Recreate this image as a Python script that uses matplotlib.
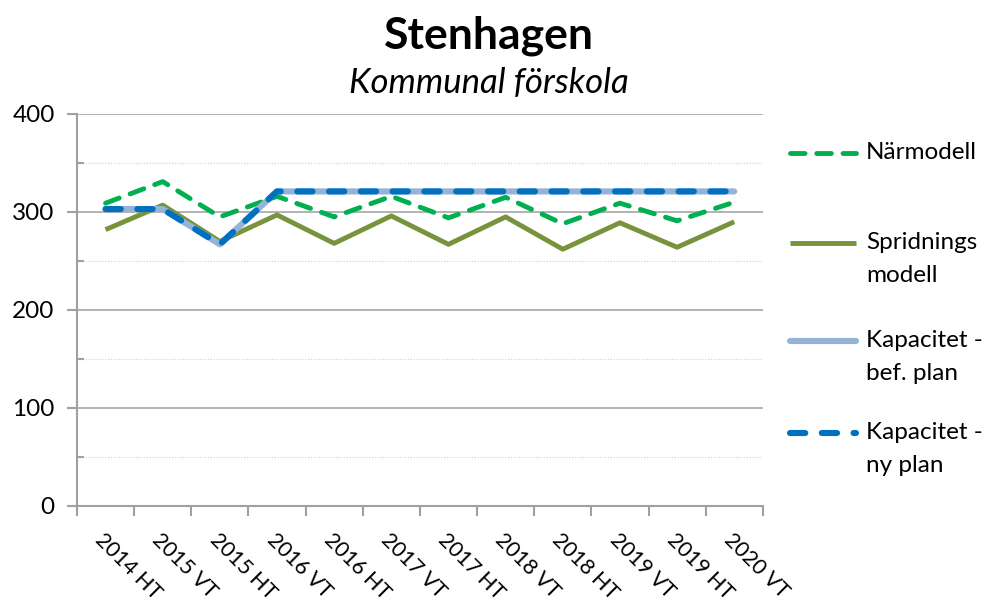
import matplotlib.pyplot as plt
from matplotlib.lines import Line2D
from matplotlib.ticker import MultipleLocator

# Terminer och prognoser
terms = ['2014 HT', '2015 VT', '2015 HT', '2016 VT', '2016 HT', '2017 VT',
         '2017 HT', '2018 VT', '2018 HT', '2019 VT', '2019 HT', '2020 VT']
narmodell = [309, 331, 295, 316, 295, 316, 294, 315, 288, 309, 291, 310]
spridning = [282, 307, 270, 297, 268, 296, 267, 295, 262, 289, 264, 290]
kap_bef = [303, 303, 267, 321, 321, 321, 321, 321, 321, 321, 321, 321]
kap_ny = [303, 303, 267, 321, 321, 321, 321, 321, 321, 321, 321, 321]

labels = ['Närmodell', 'Spridnings\nmodell', 'Kapacitet -\nbef. plan', 'Kapacitet -\nny plan']

plt.rcParams['font.family'] = ['Lato', 'DejaVu Sans']

fig = plt.figure(figsize=(9.83, 6.08), dpi=100)
ax = fig.add_axes([0.0783, 0.1678, 0.6977, 0.6447])

x = list(range(len(terms)))
styles = [
    dict(color='#00B050', lw=3.5, dashes=(3.0, 2.4), dash_capstyle='round'),
    dict(color='#77933C', lw=3.5, solid_capstyle='butt'),
    dict(color='#95B3D7', lw=4.4, solid_capstyle='round'),
    dict(color='#0070C0', lw=4.4, dashes=(2.5, 2.7), dash_capstyle='round'),
]
series = [narmodell, spridning, kap_bef, kap_ny]
for vals, st in zip(series, styles):
    ax.plot(x, vals, zorder=3, **st)

ax.set_xlim(-0.5, len(terms) - 0.5)
ax.set_ylim(0, 400)
ax.yaxis.set_major_locator(MultipleLocator(100))
ax.yaxis.set_minor_locator(MultipleLocator(50))
ax.grid(axis='y', which='major', color='#A6A6A6', lw=1.2)
ax.grid(axis='y', which='minor', color='#D0D0D0', lw=0.8, ls=(0, (1, 1.5)))
ax.set_axisbelow(True)

for s in ['top', 'right']:
    ax.spines[s].set_visible(False)
for s in ['left', 'bottom']:
    ax.spines[s].set_color('#A0A0A0')
    ax.spines[s].set_linewidth(1.5)

ax.tick_params(axis='y', which='major', direction='out', length=7, width=1.5,
               color='#A0A0A0', labelsize=17.5, pad=9)
ax.tick_params(axis='y', which='minor', direction='in', length=5, width=1.5,
               color='#A0A0A0')

# kategoriaxel: streck mellan terminerna
ax.set_xticks([i - 0.5 for i in range(len(terms) + 1)], minor=False)
ax.set_xticklabels([''] * (len(terms) + 1))
ax.tick_params(axis='x', which='major', direction='out', length=7, width=1.5,
               color='#A0A0A0')
ax.set_xticks(x, minor=True)
ax.set_xticklabels(terms, minor=True, rotation=-45, ha='left', va='top',
                   rotation_mode='anchor', fontsize=15.5)
ax.tick_params(axis='x', which='minor', length=0, pad=17)

fig.text(0.497, 0.942, 'Stenhagen', ha='center', va='center',
         fontsize=32, fontweight='bold')
fig.text(0.497, 0.863, 'Kommunal förskola', ha='center', va='center',
         fontsize=25, style='italic')

# förklaring till höger
W, H = 983, 608
leg_y = [153, 243, 341, 433]
for ly, lab, st in zip(leg_y, labels, styles):
    fig.add_artist(Line2D([790 / W, 856 / W], [1 - ly / H, 1 - ly / H],
                          transform=fig.transFigure, **st))
    fig.text(866 / W, 1 - (ly - 11) / H, lab, ha='left', va='top',
             fontsize=17.5, linespacing=1.7)

fig.savefig('out.png', dpi=100)
